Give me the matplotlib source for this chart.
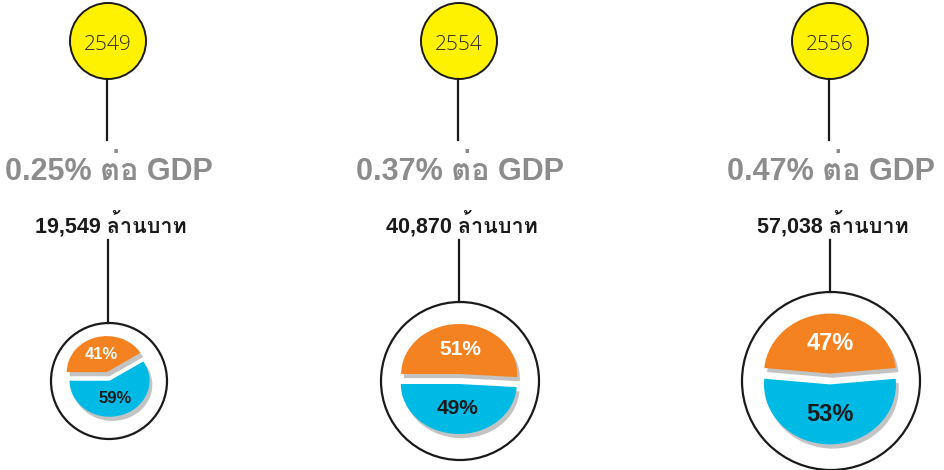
import matplotlib
matplotlib.use('Agg')
import matplotlib.pyplot as plt
import matplotlib.patheffects as pe
from matplotlib import font_manager
from matplotlib.ft2font import FT2Font

years = ['2549', '2554', '2556']
gdp_share = ['0.25%', '0.37%', '0.47%']
budget = ['19,549', '40,870', '57,038']
orange_pct = [41, 51, 47]
blue_pct = [59, 49, 53]

# look for any installed font that covers Thai
thai = []
for f in font_manager.fontManager.ttflist:
    try:
        if 0x0E01 in FT2Font(f.fname).get_charmap() and f.name not in thai:
            thai.append(f.name)
    except Exception:
        pass
fam = ['Liberation Sans'] + thai + ['DejaVu Sans']

W, H = 944, 470
fig = plt.figure(figsize=(W / 100, H / 100), dpi=100)
ax = fig.add_axes([0, 0, 1, 1])
ax.set_xlim(0, W)
ax.set_ylim(H, 0)
ax.axis('off')

col_x = [107, 458, 829]
ring_r = [58, 79, 89]
ring_y = 381
pie_c = [(109, 379), (459, 379), (830, 379)]
pie_rx = [40, 58, 66]
pie_ry = [36, 50, 60]
starts = [180, 180, 174.6]
explodes = [[0.2, 0.05], [0.1, 0.1], [0.09, 0.09]]
lab_size = [12, 15, 17]

orange = '#F58220'
blue = '#00BAE6'

for i in range(3):
    x = col_x[i]
    # year bubble
    ax.add_patch(plt.Circle((x + 1, 41), 38, facecolor='#FFF200', edgecolor='#1a1a1a', lw=1.4))
    ax.text(x + 1, 50, years[i], ha='center', va='baseline', fontsize=15,
            family=['Open Sans', 'DejaVu Sans'], fontweight='light', color='#2a2a2a')
    ax.plot([x, x], [79, 140], color='#1a1a1a', lw=1.6)
    ax.text(x + 2, 180, gdp_share[i] + ' ต่อ GDP', ha='center', va='baseline', fontsize=22,
            family=fam, fontweight='bold', color='#8C8C8C')
    ax.text(x + 4, 232, budget[i] + ' ล้านบาท', ha='center', va='baseline', fontsize=15.5,
            family=fam, fontweight='bold', color='#1a1a1a')
    ax.plot([x + 1, x + 1], [240, ring_y - ring_r[i]], color='#1a1a1a', lw=1.6)
    ax.add_patch(plt.Circle((x + 2, ring_y), ring_r[i], facecolor='white', edgecolor='#1a1a1a', lw=1.6))

    # pie in its own small axes, squeezed vertically for the tilted look
    cx, cy = pie_c[i]
    pad = 1.4
    wx, hy = pie_rx[i] * pad, pie_ry[i] * pad
    pax = fig.add_axes([(cx - wx) / W, 1 - (cy + hy) / H, 2 * wx / W, 2 * hy / H])
    shadow = [pe.SimplePatchShadow(offset=(2, -3), shadow_rgbFace='#555555', alpha=0.35), pe.Normal()]
    wedges, texts, autos = pax.pie([orange_pct[i], blue_pct[i]], colors=[orange, blue],
                                   startangle=starts[i], counterclock=False,
                                   explode=explodes[i], autopct=lambda p: f'{p:.0f}%',
                                   pctdistance=0.5,
                                   wedgeprops={'linewidth': 0, 'path_effects': shadow})
    autos[0].set_color('white')
    autos[1].set_color('#1a1a1a')
    for t in autos:
        t.set_fontsize(lab_size[i])
        t.set_fontweight('bold')
        t.set_family(['Liberation Sans', 'DejaVu Sans'])
    pax.set_aspect('auto')
    pax.set_xlim(-pad, pad)
    pax.set_ylim(-pad, pad)
    pax.axis('off')

fig.savefig('out.png', dpi=100)
